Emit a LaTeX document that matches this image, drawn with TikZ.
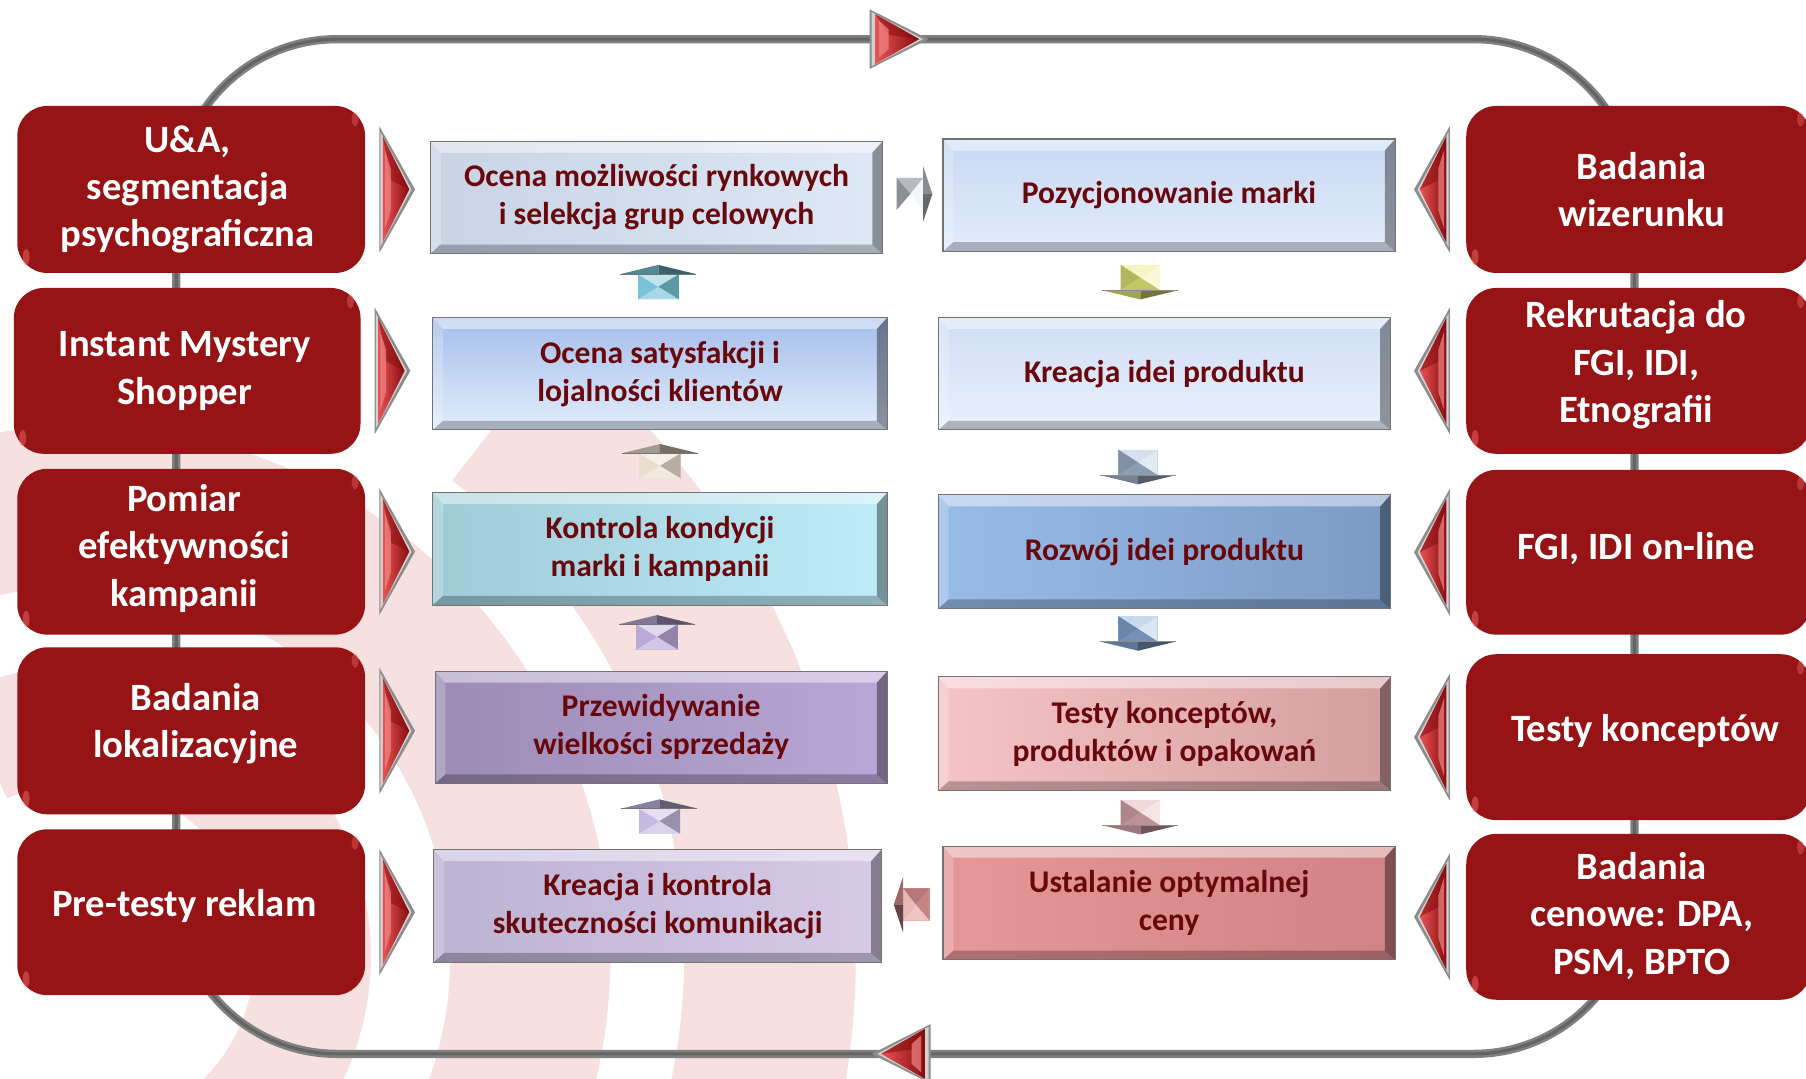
\documentclass[tikz,border=0pt]{standalone}
\usepackage{fontspec}
\setmainfont{Carlito}
\usetikzlibrary{calc,fit}
\definecolor{boxred}{RGB}{150,20,22}
\definecolor{txtred}{RGB}{105,8,12}
\definecolor{ringpink}{RGB}{247,224,224}
\definecolor{loopgray}{RGB}{128,128,128}
\definecolor{loopdark}{RGB}{100,100,100}
\definecolor{trilight}{RGB}{232,84,84}
\definecolor{tridark}{RGB}{135,12,15}
\definecolor{arTeal}{RGB}{120,195,215}
\definecolor{arCream}{RGB}{235,222,205}
\definecolor{arLav}{RGB}{185,170,215}
\definecolor{arLavB}{RGB}{195,185,225}
\definecolor{arYel}{RGB}{228,234,120}
\definecolor{arBlueGray}{RGB}{165,185,210}
\definecolor{arBlue}{RGB}{135,170,215}
\definecolor{arPink}{RGB}{225,170,175}
\definecolor{arWhite}{RGB}{228,234,242}
\definecolor{arRose}{RGB}{225,150,150}
\definecolor{cLa}{RGB}{200,212,228}\definecolor{cLb}{RGB}{222,232,246}
\definecolor{cLc}{RGB}{165,190,235}\definecolor{cLd}{RGB}{226,236,252}
\definecolor{cLe}{RGB}{158,203,214}\definecolor{cLf}{RGB}{190,236,248}
\definecolor{cLg}{RGB}{155,140,180}\definecolor{cLh}{RGB}{186,166,216}
\definecolor{cLi}{RGB}{188,178,210}\definecolor{cLj}{RGB}{214,202,232}
\definecolor{cRa}{RGB}{200,216,242}\definecolor{cRb}{RGB}{226,236,252}
\definecolor{cRc}{RGB}{208,222,244}\definecolor{cRd}{RGB}{232,240,252}
\definecolor{cRe}{RGB}{152,188,232}\definecolor{cRf}{RGB}{124,154,198}
\definecolor{cRg}{RGB}{245,196,198}\definecolor{cRh}{RGB}{212,158,160}
\definecolor{cRi}{RGB}{230,152,152}\definecolor{cRj}{RGB}{208,130,132}
\tikzset{
  redbox/.style={draw=none, fill=boxred, rounded corners=0.6cm, inner sep=0pt},
  redtxt/.style={inner sep=0pt, text=white, font=\fontsize{22}{27}\selectfont\bfseries, align=center},
  midbox/.style={draw=none, inner sep=0pt},
  midtxt/.style={inner sep=0pt, text=txtred, font=\fontsize{18}{21.6}\selectfont\bfseries, align=center},
  rtri/.pic={
    \fill[black!45] (-16,-55) -- (15,0) -- (-16,55) -- cycle;
    \fill[gray!35] (-15,-50) -- (12,0) -- (-15,50) -- cycle;
    \shade[left color=trilight, right color=tridark] (-13,-46) -- (10,0) -- (-13,46) -- cycle;
    \fill[tridark, opacity=0.55] (-13,-46) -- (10,0) -- (-6,-8) -- cycle;
    \fill[trilight!70!white, opacity=0.7] (-11,-34) -- (-6,-18) -- (-6,18) -- (-11,34) -- cycle;
  },
  uparr/.pic={
    \fill[#1] (-18,-7) rectangle (18,15);
    \fill[#1!45!white] (-18,-7) -- (18,-7) -- (0,4) -- cycle;
    \fill[#1!78!black] (18,-7) -- (18,15) -- (0,4) -- cycle;
    \fill[#1!65!white] (-18,15) -- (18,15) -- (0,4) -- cycle;
    \fill[#1!70!black] (-33,-7) -- (0,-15) -- (0,-7) -- cycle;
    \fill[#1!50!black] (0,-15) -- (33,-7) -- (0,-7) -- cycle;
    \draw[black!55, line width=0.5pt] (-33,-7) -- (33,-7);
  },
  downarr/.pic={
    \fill[#1] (-17,-15) rectangle (17,7);
    \fill[#1!45!white] (-17,-15) -- (17,-15) -- (0,-4) -- cycle;
    \fill[#1!78!black] (-17,-15) -- (-17,7) -- (0,-4) -- cycle;
    \fill[#1!30!white] (17,-15) -- (17,7) -- (0,-4) -- cycle;
    \fill[#1!85!black] (-17,7) -- (17,7) -- (0,-4) -- cycle;
    \fill[#1!70!black] (-33,7) -- (0,15) -- (0,7) -- cycle;
    \fill[#1!50!black] (0,15) -- (33,7) -- (0,7) -- cycle;
    \draw[black!45, line width=0.5pt] (-33,7) -- (33,7);
  },
  rightarr/.pic={
    \fill[#1] (-15,-14) rectangle (8,14);
    \fill[#1!80!black] (-15,-14) -- (8,-14) -- (-3,0) -- cycle;
    \fill[#1!62!black] (-15,-14) -- (-15,14) -- (-3,0) -- cycle;
    \fill[white] (-15,14) -- (8,14) -- (-3,0) -- cycle;
    \fill[#1!40!white] (8,-14) -- (8,14) -- (-3,0) -- cycle;
    \fill[#1!60!black] (8,-24) -- (16,0) -- (8,0) -- cycle;
    \fill[#1!45!black] (8,0) -- (16,0) -- (8,24) -- cycle;
  },
  leftarr/.pic={
    \fill[#1] (-8,-14) rectangle (15,14);
    \fill[#1!80!black] (-8,-14) -- (15,-14) -- (3,0) -- cycle;
    \fill[#1!88!black] (15,-14) -- (15,14) -- (3,0) -- cycle;
    \fill[#1!55!white] (-8,14) -- (15,14) -- (3,0) -- cycle;
    \fill[#1!70!white] (-8,-14) -- (-8,14) -- (3,0) -- cycle;
    \fill[#1!70!black] (-8,-24) -- (-16,0) -- (-8,0) -- cycle;
    \fill[#1!45!black] (-16,0) -- (-8,0) -- (-8,24) -- cycle;
  },
}
\newcommand\bevelbox[1]{%
  \fill[white,opacity=0.45] (#1.north west) -- (#1.north east) -- ([shift={(-9,10)}]#1.north east) -- ([shift={(9,10)}]#1.north west) -- cycle;
  \fill[white,opacity=0.22] (#1.north west) -- ([shift={(9,10)}]#1.north west) -- ([shift={(9,-8)}]#1.south west) -- (#1.south west) -- cycle;
  \fill[black,opacity=0.25] (#1.south west) -- ([shift={(9,-8)}]#1.south west) -- ([shift={(-9,-8)}]#1.south east) -- (#1.south east) -- cycle;
  \fill[black,opacity=0.38] (#1.north east) -- (#1.south east) -- ([shift={(-9,-8)}]#1.south east) -- ([shift={(-9,10)}]#1.north east) -- cycle;
  \draw[black!55, line width=0.6pt] (#1.north west) rectangle (#1.south east);
}
\newcommand\redshine[1]{%
  \fill[red!55!white, opacity=0.45] ([shift={(8,-14)}]#1.south west) ellipse[x radius=3, y radius=7];
  \fill[red!55!white, opacity=0.35] ([shift={(-9,12)}]#1.north east) ellipse[x radius=3, y radius=6];
}
% annular sector: centre, inner r, outer r, start angle, end angle
\newcommand\ringband[5]{%
  \fill[ringpink] ($#1+(#4:#3)$) arc[start angle=#4, end angle=#5, radius=#3]
    -- ($#1+(#5:#2)$) arc[start angle=#5, end angle=#4, radius=#2] -- cycle;
}
\begin{document}
\begin{tikzpicture}[x=0.023034cm,y=-0.023034cm]
\clip (0,0) rectangle (1568,936);
\fill[white] (0,0) rectangle (1568,936);
% background rings
\ringband{(70,830)}{524}{673}{60}{-52}
\ringband{(70,830)}{321}{460}{60}{-112}
\ringband{(70,830)}{151}{252}{60}{-115}
% loop
\draw[loopgray, line width=4.7pt, rounded corners=3.22cm] (153,34) rectangle (1419,915);
\draw[loopdark, line width=1.8pt, rounded corners=3.22cm] (153,34) rectangle (1419,915);
\pic[xscale=1.65, yscale=0.47] at (781.5,34) {rtri};
\pic[xscale=-1.65, yscale=0.47] at (781.5,915) {rtri};
% left red boxes
\node[redbox, fit={(15,92) (317,237)}] (LA) {};
\node[redbox, fit={(12,250) (313,394)}] (LB) {};
\node[redbox, fit={(15,407) (317,551)}] (LC) {};
\node[redbox, fit={(15,562) (317,707)}] (LD) {};
\node[redbox, fit={(15,720) (317,864)}] (LE) {};
% right red boxes
\node[redbox, fit={(1273,92) (1572,237)}] (RA) {};
\node[redbox, fit={(1273,250) (1572,394)}] (RB) {};
\node[redbox, fit={(1273,408) (1572,551)}] (RC) {};
\node[redbox, fit={(1273,568) (1572,712)}] (RD) {};
\node[redbox, fit={(1273,724) (1572,868)}] (RE) {};
\foreach \n in {LA,LB,LC,LD,LE,RA,RB,RC,RD,RE} {\redshine{\n}}
\node[redtxt] (LAt) at ($(LA.center)+(-3,0)$) {U\&A,\\segmentacja\\psychograficzna};
\node[redtxt] (LBt) at ($(LB.center)+(-2,0)$) {Instant Mystery\\Shopper};
\node[redtxt] (LCt) at ($(LC.center)+(-6,-3)$) {Pomiar\\efektywności\\kampanii};
\node[redtxt] (LDt) at ($(LD.center)+(4,-6)$) {Badania\\lokalizacyjne};
\node[redtxt] (LEt) at ($(LE.center)+(-6,-5)$) {Pre-testy reklam};
\node[redtxt] (RAt) at ($(RA.center)+(3,0)$) {Badania\\wizerunku};
\node[redtxt] (RBt) at ($(RB.center)+(-2,-5)$) {Rekrutacja do\\FGI, IDI,\\Etnografii};
\node[redtxt] (RCt) at ($(RC.center)+(-2,-3)$) {FGI, IDI on-line};
\node[redtxt] (RDt) at ($(RD.center)+(6,-5)$) {Testy konceptów};
\node[redtxt] (REt) at ($(RE.center)+(3,-1)$) {Badania\\cenowe: DPA,\\PSM, BPTO};
% small triangles
\foreach \n in {LA,LB,LC,LD,LE} {\pic at ($(\n.east)+(28,0)$) {rtri};}
\foreach \n in {RA,RB,RC,RD,RE} {\pic[xscale=-1] at ($(\n.west)+(-30,0)$) {rtri};}
% middle boxes
\node[midbox, fit={(374,123) (766,220)}, left color=cLa, right color=cLb] (L1) {};
\node[midbox, fit={(376,276) (770,373)}, top color=cLc, bottom color=cLd] (L2) {};
\node[midbox, fit={(376,428) (770,525)}, left color=cLe, right color=cLf] (L3) {};
\node[midbox, fit={(378,583) (770,680)}, left color=cLg, right color=cLh] (L4) {};
\node[midbox, fit={(377,738) (765,835)}, left color=cLi, right color=cLj] (L5) {};
\node[midbox, fit={(819,121) (1211,218)}, top color=cRa, bottom color=cRb] (R1) {};
\node[midbox, fit={(815,276) (1207,373)}, top color=cRc, bottom color=cRd] (R2) {};
\node[midbox, fit={(815,430) (1207,528)}, left color=cRe, right color=cRf] (R3) {};
\node[midbox, fit={(815,588) (1207,686)}, left color=cRg, right color=cRh] (R4) {};
\node[midbox, fit={(819,735) (1211,833)}, left color=cRi, right color=cRj] (R5) {};
\foreach \n in {L1,L2,L3,L4,L5,R1,R2,R3,R4,R5} {\bevelbox{\n}}
\node[midtxt] (L1t) at (L1.center) {Ocena możliwości rynkowych\\i selekcja grup celowych};
\node[midtxt] (L2t) at (L2.center) {Ocena satysfakcji i\\lojalności klientów};
\node[midtxt] (L3t) at (L3.center) {Kontrola kondycji\\marki i kampanii};
\node[midtxt] (L4t) at (L4.center) {Przewidywanie\\wielkości sprzedaży};
\node[midtxt] (L5t) at (L5.center) {Kreacja i kontrola\\skuteczności komunikacji};
\node[midtxt] (R1t) at (R1.center) {Pozycjonowanie marki};
\node[midtxt] (R2t) at (R2.center) {Kreacja idei produktu};
\node[midtxt] (R3t) at (R3.center) {Rozwój idei produktu};
\node[midtxt] (R4t) at (R4.center) {Testy konceptów,\\produktów i opakowań};
\node[midtxt] (R5t) at (R5.center) {Ustalanie optymalnej\\ceny};
% connectors between middle boxes
\pic at ($(L2.north)!0.5!(L1.south)+(0,-3)$) {uparr=arTeal};
\pic at ($(L3.north)!0.5!(L2.south)$) {uparr=arCream};
\pic at ($(L4.north)!0.5!(L3.south)+(-3,-5)$) {uparr=arLav};
\pic at ($(L5.north)!0.5!(L4.south)$) {uparr=arLavB};
\pic at ($(R1.south)!0.5!(R2.north)+(-23,-2)$) {downarr=arYel};
\pic at ($(R2.south)!0.5!(R3.north)+(-23,4)$) {downarr=arBlueGray};
\pic at ($(R3.south)!0.5!(R4.north)+(-23,-8)$) {downarr=arBlue};
\pic at ($(R4.south)!0.5!(R5.north)+(-23,-1)$) {downarr=arPink};
\pic at ($(L1.east)!0.5!(R1.west)+(1,-2)$) {rightarr=arWhite};
\pic at ($(R5.west)!0.5!(L5.east)$) {leftarr=arRose};
\end{tikzpicture}
\end{document}
